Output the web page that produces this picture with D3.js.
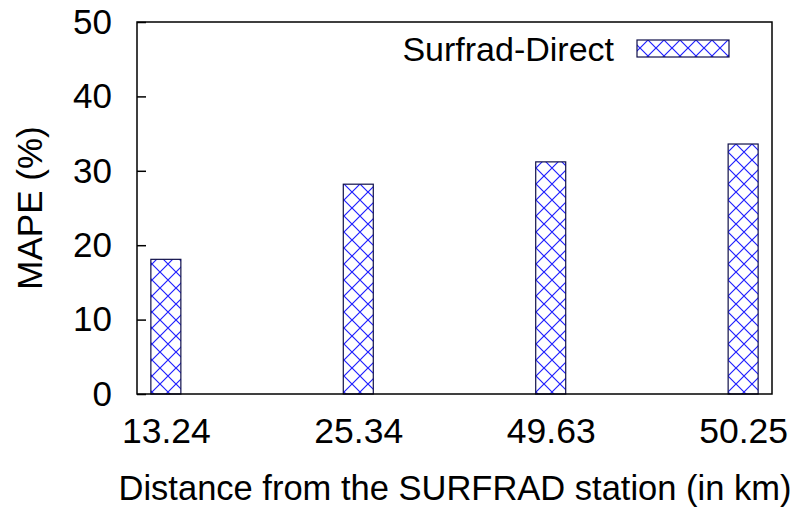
<!DOCTYPE html>
<html><head><meta charset="utf-8">
<script src="https://cdn.jsdelivr.net/npm/d3@7"></script>
<style>body{margin:0;background:#fff}text{font-family:"Liberation Sans",Arial,sans-serif;fill:#000}</style>
</head><body><svg id="c" width="794" height="508"></svg>
<script>
const categories = ["13.24","25.34","49.63","50.25"];
const values = [18.1, 28.2, 31.2, 33.6];
const yTicks = [0,10,20,30,40,50];
const seriesName = "Surfrad-Direct";

const svg = d3.select("#c");
const L=137,R=772,T=22,B=394;
const x = d3.scaleLinear().domain([-0.15,3.15]).range([L,R]);
const y = d3.scaleLinear().domain([0,50]).range([B,T]);
const bw = 30;

const defs = svg.append("defs");
const pat = defs.append("pattern").attr("id","hatch").attr("patternUnits","userSpaceOnUse")
  .attr("width",16).attr("height",16);
pat.append("rect").attr("width",16).attr("height",16).attr("fill","#fff");
pat.append("path").attr("d","M0,0L16,16M16,0L0,16").attr("stroke","#1f1fff").attr("stroke-width",1.2).attr("fill","none");

// bars
svg.selectAll("rect.bar").data(values).join("rect").attr("class","bar")
  .attr("x",(d,i)=>x(i)-bw/2).attr("width",bw)
  .attr("y",d=>y(d)).attr("height",d=>B-y(d))
  .attr("fill","url(#hatch)").attr("stroke","#10104a").attr("stroke-width",1.2);

// frame
svg.append("rect").attr("x",L).attr("y",T).attr("width",R-L).attr("height",B-T)
  .attr("fill","none").attr("stroke","#000").attr("stroke-width",1.5);

// y axis
const ya = svg.append("g").attr("transform",`translate(${L},0)`)
  .call(d3.axisLeft(y).tickValues(yTicks).tickSize(-9).tickPadding(25).tickFormat(d3.format("d")));
ya.select(".domain").remove();
ya.selectAll("line").attr("stroke","#000").attr("stroke-width",1.5);
ya.selectAll("text").style("font-size","35px").attr("font-family","Liberation Sans, Arial, sans-serif");

// x axis
const xa = svg.append("g").attr("transform",`translate(0,${B})`)
  .call(d3.axisBottom(x).tickValues(d3.range(categories.length)).tickSize(0).tickPadding(24).tickFormat(i=>categories[i]));
xa.select(".domain").remove();
xa.selectAll("text").style("font-size","35.5px").attr("font-family","Liberation Sans, Arial, sans-serif");

// labels
svg.append("text").attr("x",455).attr("y",500).attr("text-anchor","middle").style("font-size","34.5px").text("Distance from the SURFRAD station (in km)");
svg.append("text").attr("transform","translate(42,208) rotate(-90)").attr("text-anchor","middle").style("font-size","35px").text("MAPE (%)");

// legend
svg.append("text").attr("x",614).attr("y",61).attr("text-anchor","end").style("font-size","34px").text(seriesName);
svg.append("rect").attr("x",637).attr("y",40).attr("width",92).attr("height",17)
  .attr("fill","url(#hatch)").attr("stroke","#10104a").attr("stroke-width",1.2);
</script></body></html>
